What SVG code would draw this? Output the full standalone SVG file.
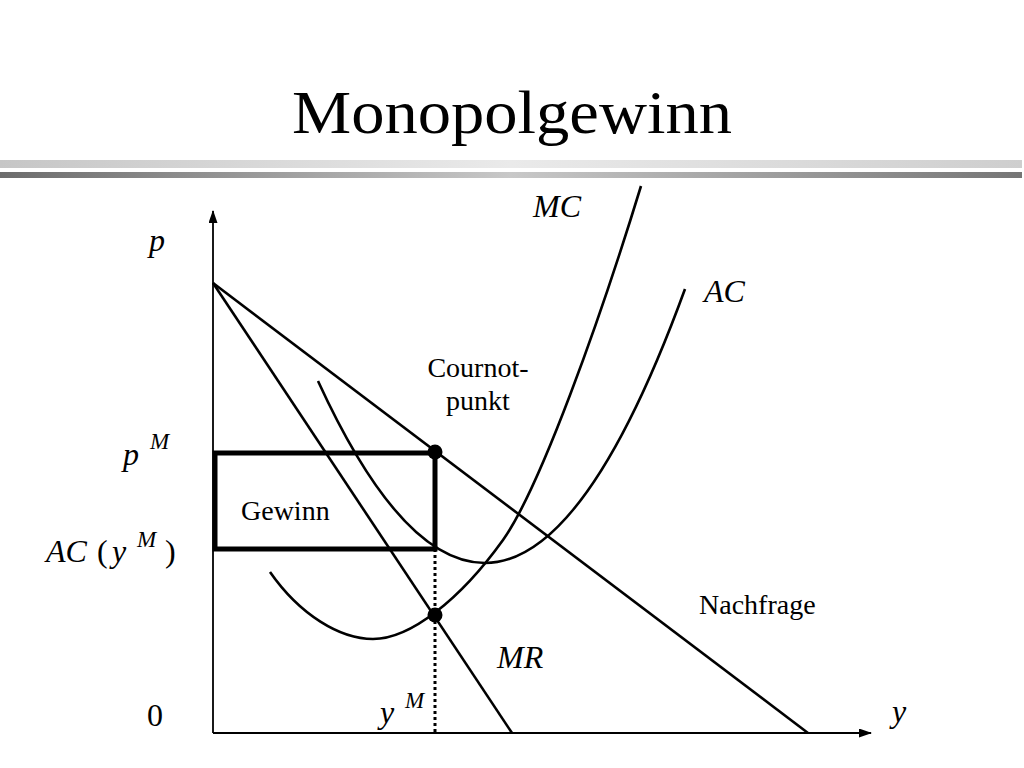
<svg xmlns="http://www.w3.org/2000/svg" width="1024" height="768" viewBox="0 0 1024 768">
<defs>
<linearGradient id="gTop" x1="0" y1="0" x2="1" y2="0">
<stop offset="0" stop-color="#c6c6c6"/>
<stop offset="0.5" stop-color="#eaeaea"/>
<stop offset="1" stop-color="#cecece"/>
</linearGradient>
<linearGradient id="gBot" x1="0" y1="0" x2="1" y2="0">
<stop offset="0" stop-color="#6c6c6c"/>
<stop offset="0.5" stop-color="#c8c8c8"/>
<stop offset="1" stop-color="#757575"/>
</linearGradient>
<marker id="arr" viewBox="0 0 13 9" refX="12" refY="4.5" markerWidth="13" markerHeight="9" markerUnits="userSpaceOnUse" orient="auto">
<path d="M0,0 L13,4.5 L0,9 z" fill="#000"/>
</marker>
<style>
.math{font-family:"Liberation Serif","Times New Roman",serif;font-style:italic;font-size:32px;fill:#000}
.sup{font-family:"Liberation Serif","Times New Roman",serif;font-style:italic;font-size:23px;fill:#000}
.rom{font-family:"Liberation Serif","Times New Roman",serif;font-size:28px;fill:#000}
.num{font-family:"Liberation Serif","Times New Roman",serif;font-size:32px;fill:#000}
.curve{fill:none;stroke:#000;stroke-width:2.6}
.axis{fill:none;stroke:#000;stroke-width:1.8}
</style>
</defs>
<rect width="1024" height="768" fill="#fff"/>
<g id="title">
<text x="292" y="133" font-family="'Liberation Serif','Times New Roman',serif" font-size="62" textLength="440" lengthAdjust="spacingAndGlyphs">Monopolgewinn</text>
<rect x="0" y="160" width="1022" height="8" fill="url(#gTop)"/>
<rect x="0" y="172" width="1022" height="6" fill="url(#gBot)"/>
</g>
<g id="axes">
<line class="axis" x1="213" y1="733" x2="213" y2="211" marker-end="url(#arr)"/>
<line class="axis" x1="213" y1="733" x2="871" y2="733" marker-end="url(#arr)"/>
</g>
<g id="connectors">
<line id="demand" class="curve" x1="213" y1="283" x2="808" y2="733"/>
<line id="mr" class="curve" x1="213" y1="283" x2="512" y2="733"/>
<path id="mc" class="curve" d="M270,572 C300,615 340,639 373,639 C410,639 460,600 503,540 C540,488 600,320 641,186"/>
<path id="ac" class="curve" d="M318,381 Q401.5,563 485,563 Q585,563 685,289"/>
<line id="ym" x1="435" y1="549" x2="435" y2="733" stroke="#000" stroke-width="3" stroke-dasharray="3,3"/>
</g>
<g id="gewinn">
<rect x="215" y="453" width="220" height="96" fill="none" stroke="#000" stroke-width="5"/>
<text class="rom" x="241" y="520">Gewinn</text>
</g>
<g id="cournot">
<circle cx="435" cy="452" r="7.5" fill="#000"/>
<text class="rom" x="478" y="377" text-anchor="middle">Cournot-</text>
<text class="rom" x="478" y="410" text-anchor="middle">punkt</text>
</g>
<g id="mcmr">
<circle cx="435" cy="615" r="7.5" fill="#000"/>
</g>
<g id="labels">
<text class="math" x="149" y="251">p</text>
<text class="math" x="123" y="465">p</text>
<text class="sup" x="150" y="449">M</text>
<text class="math" x="46" y="562">AC</text>
<text class="num" x="97" y="562">(</text>
<text class="math" x="112" y="562">y</text>
<text class="sup" x="137" y="547">M</text>
<text class="num" x="165" y="562">)</text>
<text class="math" x="533" y="217">MC</text>
<text class="math" x="704" y="302">AC</text>
<text class="math" x="497" y="668">MR</text>
<text class="rom" x="699" y="614">Nachfrage</text>
<text class="num" x="147" y="726">0</text>
<text class="math" x="380" y="723">y</text>
<text class="sup" x="405" y="708">M</text>
<text class="math" x="892" y="722">y</text>
</g>
</svg>
